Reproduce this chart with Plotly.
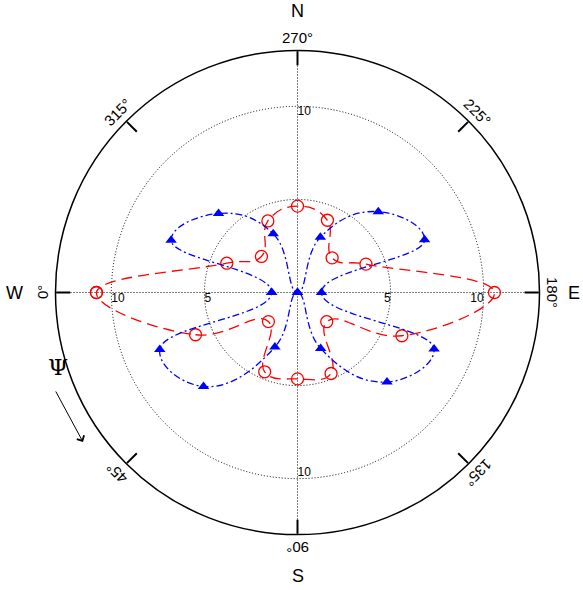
import math
import plotly.graph_objects as go

# ---- data -------------------------------------------------------------
theta = [0, 22.5, 45, 67.5, 90, 112.5, 135, 157.5,
         180, 202.5, 225, 247.5, 270, 292.5, 315, 337.5]
red_r = [10.80, 5.93, 2.21, 4.61, 4.64, 4.71, 2.22, 6.07,
         10.58, 3.98, 2.63, 4.20, 4.64, 4.16, 2.74, 4.11]
blue_r = [1.39, 8.01, 7.14, 3.17, 0.0, 3.25, 6.80, 7.94,
          1.29, 7.39, 6.14, 3.21, 0.0, 3.41, 6.00, 7.35]

angle_ticks = [0, 45, 90, 135, 180, 225, 270, 315]
angle_labels = ["0°", "45°", "90°", "135°", "180°", "225°", "270°", "315°"]
compass_theta = [270, 90, 0, 180]
compass_labels = ["N", "S", "W", "E"]
compass_dist = [281, 283, 283, 276]
radial_label_r = [10, 5, 5, 10, 10, 10]
radial_label_theta = [0, 0, 180, 180, 270, 90]
radial_label_text = ["10", "5", "5", "10", "10", "10"]
radial_label_pos = ["bottom right", "bottom right", "bottom left",
                    "bottom left", "bottom right", "top right"]
R_MAX = 13.0

# ---- layout geometry (figure pixels) ------------------------------------
W, H = 583, 590
CX, CY, RPX = 297.5, 292.5, 242.0
FONT = "Liberation Sans, Arial, sans-serif"


def paper(theta_deg, dist):
    t = math.radians(theta_deg)
    x = CX - dist * math.cos(t)
    y = CY + dist * math.sin(t)
    return x / W, 1 - y / H


def closed(a):
    return list(a) + [a[0]]


fig = go.Figure()

# dotted cross-hair grid lines (W-E and N-S)
for t0, t1 in [(0, 180), (90, 270)]:
    fig.add_trace(go.Scatterpolar(
        r=[R_MAX, 0, R_MAX], theta=[t0, t0, t1], mode="lines",
        line=dict(color="black", width=1.1, dash="1px,2px"),
        hoverinfo="skip", showlegend=False))

fig.add_trace(go.Scatterpolar(
    r=closed(red_r), theta=closed(theta), mode="lines+markers",
    line=dict(color="#ff0000", width=1.3, dash="11px,6px", shape="spline", smoothing=1.3),
    marker=dict(symbol="circle-open", size=12, color="#ff0000",
                line=dict(width=1.3, color="#ff0000")),
    showlegend=False))

fig.add_trace(go.Scatterpolar(
    r=closed(blue_r), theta=closed(theta), mode="lines+markers",
    line=dict(color="#0000ff", width=1.3, dash="7px,3px,2px,3px", shape="spline", smoothing=1.3),
    marker=dict(symbol="triangle-up", size=10, color="#0000ff"),
    showlegend=False))

fig.add_trace(go.Scatterpolar(
    r=radial_label_r, theta=radial_label_theta, mode="text",
    text=radial_label_text, textposition=radial_label_pos,
    textfont=dict(family=FONT, size=12, color="black"),
    hoverinfo="skip", showlegend=False))

annotations = []
for t, lab in zip(angle_ticks, angle_labels):
    x, y = paper(t, 255)
    ang = (270 - t) % 360
    if ang > 180:
        ang -= 360
    annotations.append(dict(x=x, y=y, xref="paper", yref="paper", text=lab,
                            showarrow=False, textangle=ang,
                            xanchor="center", yanchor="middle",
                            font=dict(family=FONT, size=15, color="black")))
for t, lab, d in zip(compass_theta, compass_labels, compass_dist):
    x, y = paper(t, d)
    annotations.append(dict(x=x, y=y, xref="paper", yref="paper", text=lab,
                            showarrow=False, xanchor="center", yanchor="middle",
                            font=dict(family=FONT, size=18, color="black")))

# Psi label and rotation-sense arrow
annotations.append(dict(x=46 / W, y=1 - 367 / H, xref="paper", yref="paper",
                        text="Ψ", showarrow=False,
                        font=dict(family="DejaVu Serif, Liberation Serif, serif",
                                  size=23, color="black")))
annotations.append(dict(x=83 / W, y=1 - 442 / H, xref="paper", yref="paper",
                        text="", showarrow=True, ax=-28, ay=-52,
                        arrowhead=4, arrowsize=1.6, arrowwidth=1, arrowcolor="black"))

fig.update_layout(
    width=W, height=H,
    margin=dict(l=0, r=0, t=0, b=0),
    paper_bgcolor="white",
    showlegend=False,
    annotations=annotations,
    polar=dict(
        domain=dict(x=[(CX - RPX) / W, (CX + RPX) / W],
                    y=[1 - (CY + RPX) / H, 1 - (CY - RPX) / H]),
        bgcolor="white",
        radialaxis=dict(range=[0, R_MAX], tickvals=[5, 10], showticklabels=False,
                        ticks="", showline=False, showgrid=True,
                        gridcolor="black", gridwidth=1.1, griddash="1px,2px"),
        angularaxis=dict(rotation=180, direction="counterclockwise",
                         tickmode="array", tickvals=angle_ticks,
                         showticklabels=False, ticks="inside", ticklen=14,
                         tickwidth=1.5, tickcolor="black",
                         showgrid=False, showline=True,
                         linecolor="black", linewidth=1.5),
    ),
)

fig.write_html("out.html",
               config={"displayModeBar": False},
               post_script="document.body.style.margin='0';")
